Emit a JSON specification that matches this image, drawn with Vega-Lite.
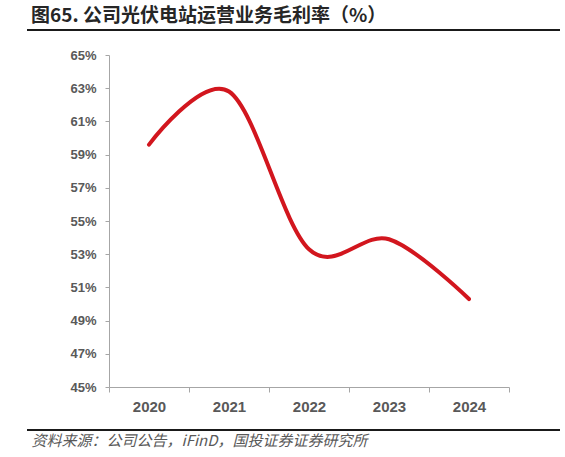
{
  "$schema": "https://vega.github.io/schema/vega-lite/v6.json",
  "width": 400,
  "height": 332,
  "autosize": "none",
  "padding": {"left": 109, "top": 55, "right": 56, "bottom": 70},
  "background": "white",
  "config": {
    "view": {"stroke": "transparent"},
    "font": "Liberation Sans",
    "axisY": {
      "labelOverlap": false,
      "grid": false,
      "labelFontSize": 13,
      "labelFontWeight": "bold",
      "labelColor": "#595959",
      "labelPadding": 9,
      "domainColor": "#a6a6a6",
      "tickColor": "#a6a6a6",
      "tickSize": 4
    }
  },
  "title": {
    "text": "图65. 公司光伏电站运营业务毛利率（%）",
    "font": "Noto Sans CJK SC",
    "fontSize": 19,
    "fontWeight": "bold",
    "color": "#262626",
    "anchor": "start",
    "frame": "group",
    "baseline": "middle",
    "dx": -78,
    "offset": -6
  },
  "data": {
    "values": [
      {"year": "2020", "margin": 59.6},
      {"year": "2021", "margin": 62.8},
      {"year": "2022", "margin": 53.3},
      {"year": "2023", "margin": 53.9},
      {"year": "2024", "margin": 50.3}
    ]
  },
  "layer": [
    {
      "mark": {"type": "line", "interpolate": "cardinal", "color": "#D2161E", "strokeWidth": 4, "strokeCap": "round"},
      "encoding": {
        "x": {
          "field": "year",
          "type": "ordinal",
          "bandPosition": 0.5,
          "scale": {"type": "band", "paddingInner": 0, "paddingOuter": 0},
          "axis": {
            "tickBand": "extent",
            "labelAngle": 0,
            "labelFontSize": 15,
            "labelFontWeight": "bold",
            "labelColor": "#595959",
            "labelPadding": 7,
            "domainColor": "#a6a6a6",
            "tickColor": "#a6a6a6",
            "tickSize": 5,
            "title": "资料来源：公司公告，iFinD，国投证券证券研究所",
            "titleFont": "Noto Sans CJK SC",
            "titleFontSize": 15,
            "titleFontStyle": "italic",
            "titleFontWeight": "normal",
            "titleColor": "#595959",
            "titleAlign": "left",
            "titleBaseline": "middle",
            "titleX": -78,
            "titleY": 53
          }
        },
        "y": {
          "field": "margin",
          "type": "quantitative",
          "scale": {"domain": [45, 65], "zero": false, "nice": false},
          "axis": {
            "values": [45, 47, 49, 51, 53, 55, 57, 59, 61, 63, 65],
            "labelExpr": "datum.value + '%'",
            "title": null
          }
        }
      }
    },
    {
      "mark": {"type": "rule", "color": "#1a1a1a", "strokeWidth": 2},
      "encoding": {
        "x": {"datum": -0.205, "type": "quantitative", "scale": {"domain": [0, 1], "nice": false, "zero": false}, "axis": null},
        "x2": {"datum": 1.1275},
        "y": {
          "datum": 66.51,
          "type": "quantitative",
          "axis": {
            "values": [45, 47, 49, 51, 53, 55, 57, 59, 61, 63, 65],
            "labelExpr": "datum.value + '%'",
            "title": null
          }
        }
      }
    },
    {
      "mark": {"type": "rule", "color": "#1a1a1a", "strokeWidth": 2},
      "encoding": {
        "x": {"datum": -0.205, "type": "quantitative", "scale": {"domain": [0, 1], "nice": false, "zero": false}, "axis": null},
        "x2": {"datum": 1.1275},
        "y": {
          "datum": 42.41,
          "type": "quantitative",
          "axis": {
            "values": [45, 47, 49, 51, 53, 55, 57, 59, 61, 63, 65],
            "labelExpr": "datum.value + '%'",
            "title": null
          }
        }
      }
    }
  ],
  "resolve": {"scale": {"x": "independent"}}
}
